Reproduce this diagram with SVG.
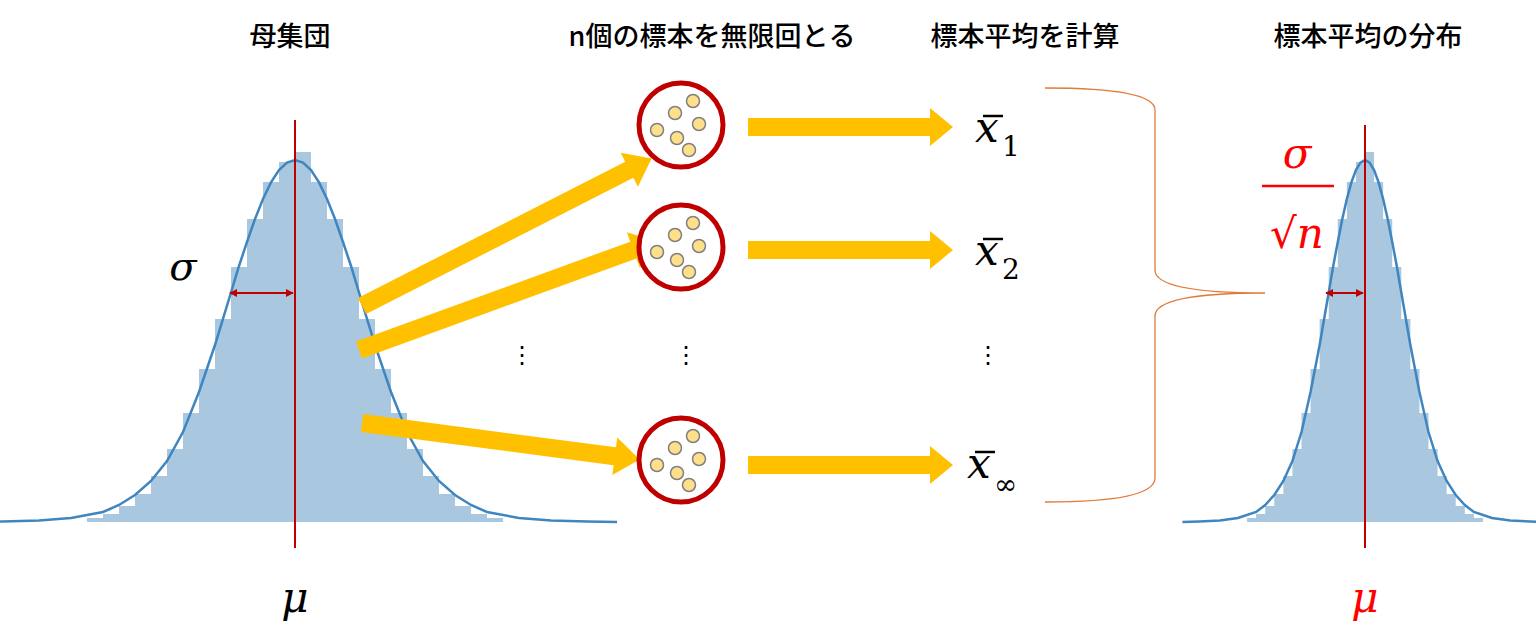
<svg xmlns="http://www.w3.org/2000/svg" width="1536" height="639" viewBox="0 0 1536 639">
<style>
.t{font-family:"Noto Sans CJK JP","Noto Sans",sans-serif;font-size:27px;font-weight:500;fill:#000;text-anchor:middle}
.m{font-family:"DejaVu Serif","Liberation Serif",serif;font-style:italic;fill:#000}
.s{font-family:"DejaVu Serif","Liberation Serif",serif;fill:#000;font-size:28px}
.bar{fill:#a9c8e0}
.cur{fill:none;stroke:#3f85bf;stroke-width:2.5}
.ya{fill:#ffc000}
.circ{fill:#fff;stroke:#c00000;stroke-width:5}
.dot{fill:#ffe08a;stroke:#7f7f7f;stroke-width:1.5}
.dots{font-family:"DejaVu Sans",sans-serif;font-size:24px;text-anchor:middle}
</style>
<defs>
<path id="bars" class="bar" d="M40,522 L87,522 87,518 103,518 103,514 119,514 119,506 135,506 135,494 151,494 151,476 167,476 167,449 183,449 183,413 199,413 199,369 215,369 215,319 231,319 231,267 247,267 247,219 263,219 263,182 279,182 279,162 295,162 295,152 311,152 311,182 327,182 327,219 343,219 343,267 359,267 359,319 375,319 375,369 391,369 391,413 407,413 407,449 423,449 423,476 439,476 439,494 455,494 455,506 471,506 471,514 487,514 487,518 503,518 503,522 585,522 Z"/>
<marker id="ra" viewBox="0 0 10 10" refX="9" refY="5" markerWidth="4" markerHeight="4" orient="auto-start-reverse"><path d="M0,0 L10,5 L0,10Z" fill="#c00000"/></marker>
</defs>
<g id="titles">
<text class="t" x="290" y="46">母集団</text>
<text class="t" x="712" y="46">n個の標本を無限回とる</text>
<text class="t" x="1025" y="46">標本平均を計算</text>
<text class="t" x="1368" y="46">標本平均の分布</text>
</g>
<g id="population">
<use href="#bars"/>
<polyline class="cur" points="5,522 35,521.5 71,520.5 103,518 135,512 151,505 167,495 183,481 199,461 215,432 231,392 247,345 263,292.5 271,266 279,242 287,219 295,199 303,182.4 311,170 319,162.6 327,160 335,162.6 343,170 351,182.4 359,199 367,219 375,242 383,266 391,292.5 407,345 423,392 439,432 455,461 471,481 487,495 503,505 519,512 551,518 583,520.5 619,521.5 649,522" transform="translate(-32,0)"/>
<line x1="295" y1="120" x2="295" y2="548" stroke="#c00000" stroke-width="2"/>
<line x1="230" y1="293" x2="293" y2="293" stroke="#c00000" stroke-width="2" marker-start="url(#ra)" marker-end="url(#ra)"/>
<text class="m" x="183" y="280" font-size="40" text-anchor="middle">σ</text>
<text class="m" x="295" y="612" font-size="42" text-anchor="middle">μ</text>
</g>
<g id="sampling-dist">
<g transform="translate(1365,-2) scale(0.567,1) translate(-295,2)">
<use href="#bars"/>
<polyline class="cur" vector-effect="non-scaling-stroke" points="5,522 35,521.5 71,520.5 103,518 135,512 151,505 167,495 183,481 199,461 215,432 231,392 247,345 263,292.5 271,266 279,242 287,219 295,199 303,182.4 311,170 319,162.6 327,160 335,162.6 343,170 351,182.4 359,199 367,219 375,242 383,266 391,292.5 407,345 423,392 439,432 455,461 471,481 487,495 503,505 519,512 551,518 583,520.5 619,521.5 649,522" transform="translate(-32,0)"/>
</g>
<line x1="1365" y1="125" x2="1365" y2="548" stroke="#c00000" stroke-width="2"/>
<line x1="1326" y1="293" x2="1363" y2="293" stroke="#c00000" stroke-width="2" marker-start="url(#ra)" marker-end="url(#ra)"/>
<text class="m" x="1297" y="168" font-size="42" style="fill:#ff0000" text-anchor="middle">σ</text>
<line x1="1262" y1="186" x2="1334" y2="186" stroke="#ff0000" stroke-width="2.5"/>
<text x="1297" y="248" font-size="42" text-anchor="middle" style="fill:#ff0000;font-family:'DejaVu Serif',serif">√<tspan font-style="italic">n</tspan></text>
<text class="m" x="1365" y="612" font-size="42" text-anchor="middle" style="fill:#ff0000">μ</text>
</g>
<g id="connectors">
<polygon class="ya" points="748,118 930,118 930,108 953,127 930,146 930,136 748,136"/>
<polygon class="ya" points="748,241 930,241 930,231 953,250 930,269 930,259 748,259"/>
<polygon class="ya" points="748,456 930,456 930,446 953,465 930,484 930,474 748,474"/>
<g transform="translate(362,306) rotate(-27)"><polygon class="ya" points="0,-9 300,-9 300,-19 325,0 300,19 300,9 0,9"/></g>
<g transform="translate(359,350) rotate(-20)"><polygon class="ya" points="0,-9 292,-9 292,-19 317,0 292,19 292,9 0,9"/></g>
<g transform="translate(362,423) rotate(7.5)"><polygon class="ya" points="0,-9 255,-9 255,-19 280,0 255,19 255,9 0,9"/></g>
<path d="M1045,88 Q1155,88 1155,110 L1155,270 Q1155,293 1265,293 Q1155,293 1155,316 L1155,478 Q1155,502 1045,502" fill="none" stroke="#e07b39" stroke-width="1.3"/>
</g>
<g id="sample1" transform="translate(681,125)">
<circle class="circ" r="42"/>
<circle class="dot" cx="12" cy="-24" r="6.5"/><circle class="dot" cx="-6" cy="-12" r="6.5"/><circle class="dot" cx="18" cy="-1" r="6.5"/><circle class="dot" cx="-24" cy="5" r="6.5"/><circle class="dot" cx="-4" cy="13" r="6.5"/><circle class="dot" cx="8" cy="25" r="6.5"/>
</g>
<g id="sample2" transform="translate(681,247)">
<circle class="circ" r="42"/>
<circle class="dot" cx="12" cy="-24" r="6.5"/><circle class="dot" cx="-6" cy="-12" r="6.5"/><circle class="dot" cx="18" cy="-1" r="6.5"/><circle class="dot" cx="-24" cy="5" r="6.5"/><circle class="dot" cx="-4" cy="13" r="6.5"/><circle class="dot" cx="8" cy="25" r="6.5"/>
</g>
<g id="sampleInf" transform="translate(681,460)">
<circle class="circ" r="42"/>
<circle class="dot" cx="12" cy="-24" r="6.5"/><circle class="dot" cx="-6" cy="-12" r="6.5"/><circle class="dot" cx="18" cy="-1" r="6.5"/><circle class="dot" cx="-24" cy="5" r="6.5"/><circle class="dot" cx="-4" cy="13" r="6.5"/><circle class="dot" cx="8" cy="25" r="6.5"/>
</g>
<g id="means">
<text class="m" x="975" y="142" font-size="42">x</text><line x1="983" y1="116" x2="1003" y2="116" stroke="#000" stroke-width="2.5"/><text class="s" x="1002" y="156">1</text>
<text class="m" x="975" y="265" font-size="42">x</text><line x1="983" y1="239" x2="1003" y2="239" stroke="#000" stroke-width="2.5"/><text class="s" x="1002" y="279">2</text>
<text class="m" x="967" y="478" font-size="42">x</text><line x1="975" y1="452" x2="995" y2="452" stroke="#000" stroke-width="2.5"/><text class="s" x="994" y="494">∞</text>
</g>
<g id="ellipses">
<text class="dots" x="522" y="363">⋮</text>
<text class="dots" x="686" y="363">⋮</text>
<text class="dots" x="988" y="363">⋮</text>
</g>
</svg>
